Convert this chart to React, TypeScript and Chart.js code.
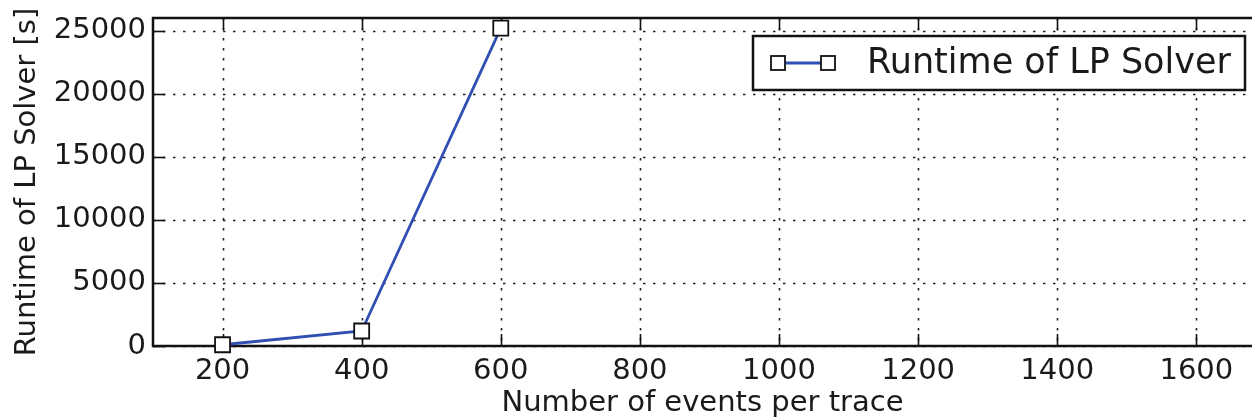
import React, { useEffect, useRef } from "react";
import { Chart, registerables } from "chart.js";

Chart.register(...registerables);

const EVENTS = [200, 400, 600];
const RUNTIME = [100, 1190, 25200];
const X_TICKS = [200, 400, 600, 800, 1000, 1200, 1400, 1600];
const Y_TICKS = [0, 5000, 10000, 15000, 20000, 25000];
const SERIES_LABEL = "Runtime of LP Solver";
const X_TITLE = "Number of events per trace";
const Y_TITLE = "Runtime of LP Solver [s]";

const FONT = "'DejaVu Sans', sans-serif";
const LINE_COLOR = "#2f4fb2";

const framePlugin = {
  id: "frame",
  beforeDatasetsDraw(chart: any) {
    const { ctx, chartArea } = chart;
    const { left, right, top, bottom } = chartArea;
    const xs = chart.scales.x;
    const ys = chart.scales.y;
    ctx.save();
    // dotted grid
    ctx.strokeStyle = "#222";
    ctx.lineWidth = 1.6;
    ctx.setLineDash([2.5, 7.5]);
    X_TICKS.forEach((v) => {
      const px = Math.round(xs.getPixelForValue(v)) + 0.5;
      ctx.beginPath();
      ctx.moveTo(px, top);
      ctx.lineTo(px, bottom);
      ctx.stroke();
    });
    Y_TICKS.forEach((v) => {
      const py = Math.round(ys.getPixelForValue(v)) + 0.5;
      ctx.beginPath();
      ctx.moveTo(left, py);
      ctx.lineTo(right, py);
      ctx.stroke();
    });
    ctx.setLineDash([]);
    // inside ticks
    ctx.strokeStyle = "#111";
    ctx.lineWidth = 1.6;
    const tl = 12;
    X_TICKS.forEach((v) => {
      const px = Math.round(xs.getPixelForValue(v)) + 0.5;
      ctx.beginPath();
      ctx.moveTo(px, bottom);
      ctx.lineTo(px, bottom - tl);
      ctx.moveTo(px, top);
      ctx.lineTo(px, top + tl);
      ctx.stroke();
    });
    Y_TICKS.forEach((v) => {
      const py = Math.round(ys.getPixelForValue(v)) + 0.5;
      ctx.beginPath();
      ctx.moveTo(left, py);
      ctx.lineTo(left + tl, py);
      ctx.stroke();
    });
    // spines
    ctx.strokeStyle = "#111";
    ctx.lineWidth = 2.5;
    ctx.beginPath();
    ctx.moveTo(right + 2, top);
    ctx.lineTo(left, top);
    ctx.lineTo(left, bottom);
    ctx.lineTo(right + 2, bottom);
    ctx.stroke();
    ctx.restore();
  },
  afterDatasetsDraw(chart: any) {
    const { ctx } = chart;
    // legend box
    const bx = 753, by = 36, bw = 492, bh = 54;
    ctx.save();
    ctx.fillStyle = "#fff";
    ctx.fillRect(bx, by, bw, bh);
    ctx.strokeStyle = "#111";
    ctx.lineWidth = 2.5;
    ctx.strokeRect(bx, by, bw, bh);
    const cy = by + bh / 2;
    const x1 = 778, x2 = 828;
    ctx.strokeStyle = LINE_COLOR;
    ctx.lineWidth = 2.8;
    ctx.beginPath();
    ctx.moveTo(x1, cy);
    ctx.lineTo(x2, cy);
    ctx.stroke();
    ctx.fillStyle = "#fff";
    ctx.strokeStyle = "#111";
    ctx.lineWidth = 1.8;
    [x1, x2].forEach((x) => {
      ctx.fillRect(x - 7, cy - 7, 14, 14);
      ctx.strokeRect(x - 7, cy - 7, 14, 14);
    });
    ctx.fillStyle = "#1a1a1a";
    ctx.font = `35px ${FONT}`;
    ctx.textBaseline = "middle";
    ctx.textAlign = "left";
    ctx.fillText(chart.data.datasets[0].label, 867, cy + 1);
    ctx.restore();
  },
};

const zeroPad = (s: any) => {
  s.paddingTop = 0;
  s.paddingBottom = 0;
  s.paddingLeft = 0;
  s.paddingRight = 0;
};

export default function App() {
  const canvasRef = useRef<HTMLCanvasElement | null>(null);

  useEffect(() => {
    document.body.style.margin = "0";
    const canvas = canvasRef.current;
    if (!canvas) return;
    const chart = new Chart(canvas, {
      type: "line",
      data: {
        datasets: [
          {
            label: SERIES_LABEL,
            data: EVENTS.map((x, i) => ({ x, y: RUNTIME[i] })),
            borderColor: LINE_COLOR,
            borderWidth: 2.8,
            pointStyle: "rect",
            pointRadius: 10.6,
            pointBorderWidth: 1.8,
            pointBorderColor: "#111",
            pointBackgroundColor: "#fff",
            tension: 0,
            clip: false as any,
          },
        ],
      },
      options: {
        animation: false,
        responsive: false,
        maintainAspectRatio: false,
        layout: { autoPadding: false, padding: { top: 18, right: 0, left: 0, bottom: 0 } },
        plugins: {
          legend: { display: false },
          tooltip: { enabled: false },
        },
        scales: {
          x: {
            type: "linear",
            min: 100,
            max: 1680,
            afterBuildTicks: (s: any) => {
              s.ticks = X_TICKS.map((v) => ({ value: v }));
            },
            afterFit: (s: any) => {
              s.height = 73;
              zeroPad(s);
            },
            grid: { display: false, drawTicks: false },
            border: { display: false },
            ticks: {
              color: "#1a1a1a",
              font: { family: FONT, size: 29 },
              padding: 8,
              maxRotation: 0,
              autoSkip: false,
              callback: (v: any) => String(v),
            },
            title: {
              display: true,
              text: X_TITLE,
              color: "#1a1a1a",
              font: { family: FONT, size: 29, lineHeight: 1.1 },
              padding: { top: 0, bottom: 0 },
            },
          },
          y: {
            type: "linear",
            min: 0,
            max: 26000,
            afterBuildTicks: (s: any) => {
              s.ticks = Y_TICKS.map((v) => ({ value: v }));
            },
            afterFit: (s: any) => {
              s.width = 153;
              zeroPad(s);
            },
            grid: { display: false, drawTicks: false },
            border: { display: false },
            ticks: {
              color: "#1a1a1a",
              font: { family: FONT, size: 29 },
              padding: 7,
              callback: (v: any) => String(v),
            },
            title: {
              display: true,
              text: Y_TITLE,
              color: "#1a1a1a",
              font: { family: FONT, size: 29 },
              padding: { top: 10, bottom: 0 },
            },
          },
        },
      },
      plugins: [framePlugin],
    });
    return () => chart.destroy();
  }, []);

  return (
    <div style={{ position: "absolute", left: 0, top: 0, width: 1252, height: 419, background: "#fff" }}>
      <canvas ref={canvasRef} width={1252} height={419} style={{ display: "block" }} />
    </div>
  );
}
